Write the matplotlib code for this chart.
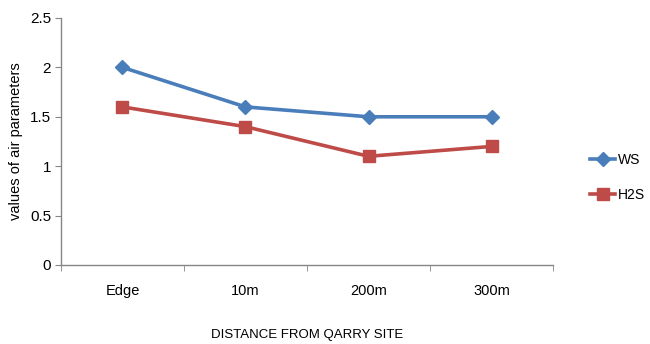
import numpy as np
import matplotlib.pyplot as plt
from matplotlib.lines import Line2D

# data
categories = ["Edge", "10m", "200m", "300m"]
ws = [2.0, 1.6, 1.5, 1.5]
h2s = [1.6, 1.4, 1.1, 1.2]
yticks = [0, 0.5, 1, 1.5, 2, 2.5]
ytick_labels = ["0", "0.5", "1", "1.5", "2", "2.5"]

blue = "#4a7ebb"
red = "#be4b48"
grey = "#868686"

plt.rcParams['font.family'] = ['Liberation Sans', 'DejaVu Sans']

fig = plt.figure(figsize=(6.5, 3.44), dpi=100)
ax = fig.add_axes([0.0938, 0.2297, 0.757, 0.7180])

x = np.arange(len(categories))
ax.plot(x, ws, color=blue, lw=2.6, marker="D", ms=7, mec=blue, label="WS")
ax.plot(x, h2s, color=red, lw=2.6, marker="s", ms=9, mec=red, label="H2S")

ax.set_xlim(-0.5, len(categories) - 0.5)
ax.set_ylim(0, 2.5)
ax.set_yticks(yticks)
ax.set_yticklabels(ytick_labels)
ax.set_xticks(x)
ax.set_xticklabels(categories)
ax.set_xticks(np.arange(-0.5, len(categories)), minor=True)

for s in ["top", "right"]:
    ax.spines[s].set_visible(False)
for s in ["left", "bottom"]:
    ax.spines[s].set_color(grey)
    ax.spines[s].set_linewidth(1.0)

ax.tick_params(axis="x", which="major", length=0, pad=14, labelsize=10.5)
ax.tick_params(axis="x", which="minor", length=4, color=grey, direction="out")
ax.tick_params(axis="y", length=4, color=grey, direction="out", labelsize=11, pad=3)

ax.set_ylabel("values of air parameters", fontsize=10.5, labelpad=8)
ax.yaxis.set_label_coords(-0.078, 0.5)
ax.set_xlabel("DISTANCE FROM QARRY SITE", fontsize=9.5)
ax.xaxis.set_label_coords(0.5, -0.26)

handles = [
    Line2D([], [], color=blue, lw=2.6, marker="D", ms=7),
    Line2D([], [], color=red, lw=2.6, marker="s", ms=9),
]
fig.legend(handles, ["WS", "H2S"], loc="center left",
           bbox_to_anchor=(0.908, 0.484), frameon=False, fontsize=10,
           handlelength=1.8, handletextpad=0.2, labelspacing=1.5,
           borderaxespad=0, borderpad=0)

fig.savefig("out.png", dpi=100)
